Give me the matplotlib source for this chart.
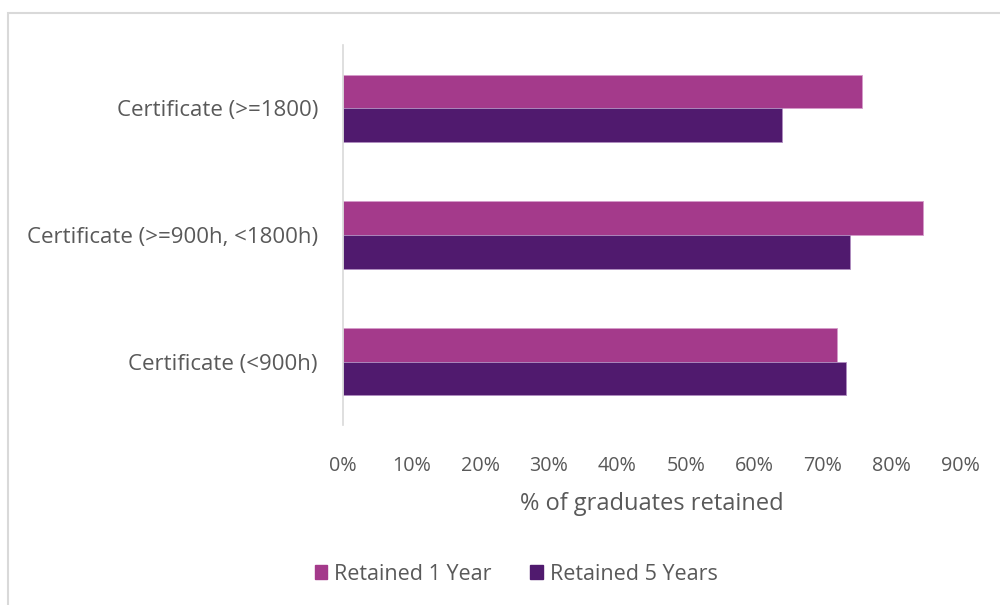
import numpy as np
import matplotlib.pyplot as plt
from matplotlib.patches import Rectangle, Patch
from matplotlib.ticker import PercentFormatter

# data (top to bottom)
categories = ["Certificate (>=1800)", "Certificate (>=900h, <1800h)", "Certificate (<900h)"]
retained_1yr = [75.7, 84.6, 72.0]
retained_5yr = [64.1, 73.9, 73.3]
series_names = ["Retained 1 Year", "Retained 5 Years"]

color_1yr = "#A43A8B"
color_5yr = "#501A6E"
text_color = "#595959"

plt.rcParams["font.family"] = ["Open Sans", "DejaVu Sans"]

fig = plt.figure(figsize=(10, 6.05), dpi=100)
ax = fig.add_axes([0.343, 0.2975, 0.617, 0.628])

y = np.arange(len(categories))
h = 0.265
ax.barh(y - h / 2, retained_1yr, height=h, color=color_1yr, edgecolor="#D59BCB", linewidth=0.6)
ax.barh(y + h / 2, retained_5yr, height=h, color=color_5yr, edgecolor="#B08CC0", linewidth=0.6)

ax.set_ylim(len(categories) - 0.5, -0.5)
ax.set_xlim(0, 90)
ax.set_xticks(np.arange(0, 91, 10))
ax.xaxis.set_major_formatter(PercentFormatter(decimals=0))
ax.set_yticks(y)
ax.set_yticklabels(categories)

for s in ["top", "right", "bottom"]:
    ax.spines[s].set_visible(False)
ax.spines["left"].set_color("#D9D9D9")
ax.spines["left"].set_linewidth(1.2)
ax.tick_params(axis="x", length=0, labelsize=14.2, colors=text_color, pad=22)
ax.tick_params(axis="y", length=0, labelsize=16, colors=text_color, pad=18)
ax.set_xlabel("% of graduates retained", fontsize=17, color=text_color, labelpad=12)

handles = [Patch(color=color_1yr), Patch(color=color_5yr)]
fig.legend(handles, series_names, loc="center", bbox_to_anchor=(0.516, 0.051),
           ncol=2, frameon=False, fontsize=15.5, labelcolor=text_color,
           handlelength=0.6, handleheight=0.6, handletextpad=0.3, columnspacing=1.8)

# outer chart frame (partly cut off at right and bottom)
fig.patches.append(Rectangle((0.008, -0.05), 1.05, 0.05 + 1 - 13 / 605,
                             transform=fig.transFigure, fill=False,
                             edgecolor="#D9D9D9", linewidth=1.5))

fig.savefig("out.png", dpi=100)
